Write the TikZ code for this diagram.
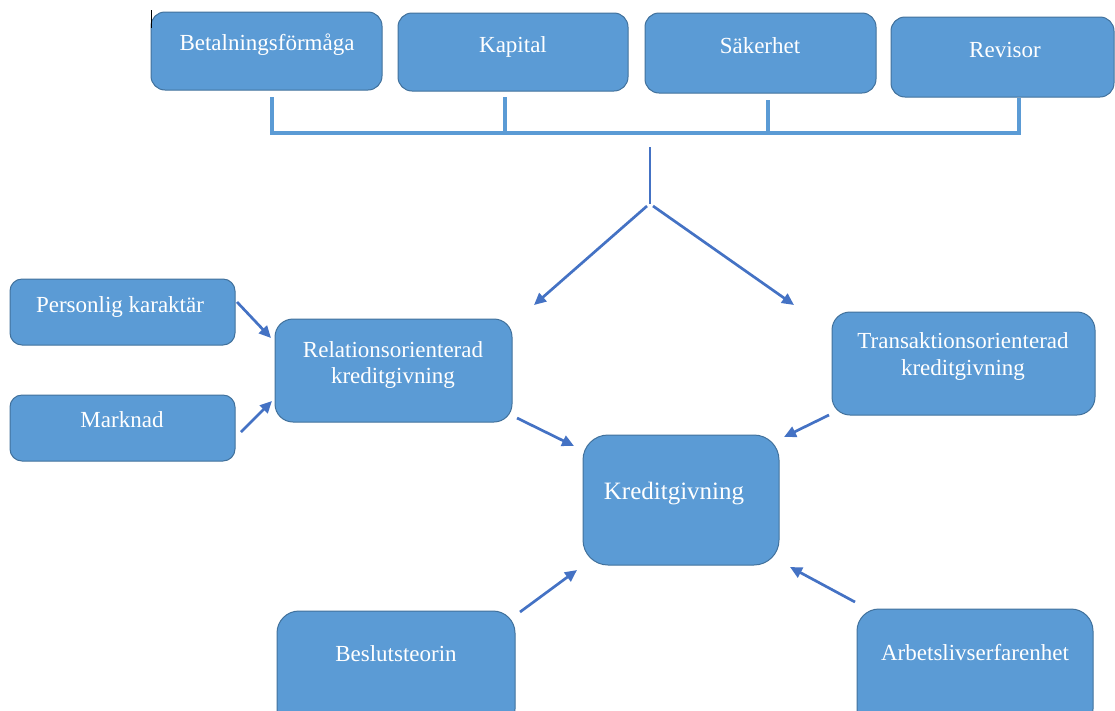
\documentclass[tikz,border=0pt]{standalone}
\usepackage{fontspec}
\setmainfont{Liberation Serif}
\usetikzlibrary{arrows.meta}
\definecolor{boxfill}{HTML}{5B9BD5}
\definecolor{boxline}{HTML}{41719C}
\definecolor{arrowblue}{HTML}{4472C4}
\begin{document}
\begin{tikzpicture}[x=1pt,y=-1pt,
  box/.style={draw=boxline, line width=1pt, fill=boxfill, inner sep=0pt},
  txt/.style={text=white, font=\fontsize{23}{27}\selectfont, inner sep=0pt, anchor=base},
  arr/.style={draw=arrowblue, line width=2.7pt, -{Triangle[length=12pt,width=11pt]}},
  brk/.style={draw=boxfill, line width=3.2pt, line join=miter}]
\useasboundingbox (0,0) rectangle (1115,710);

% top row
\node[box, rounded corners=14, minimum width=231, minimum height=78] (bet) at (266.5,51) {};
\node[txt] (betT) at (267,50) {Betalningsförmåga};
\node[box, rounded corners=14, minimum width=230, minimum height=78] (kap) at (513,52) {};
\node[txt] (kapT) at (513,52) {Kapital};
\node[box, rounded corners=14, minimum width=231, minimum height=80] (sak) at (760.5,53) {};
\node[txt] (sakT) at (760,53) {Säkerhet};
\node[box, rounded corners=14, minimum width=223, minimum height=80] (rev) at (1002.5,57) {};
\node[txt] (revT) at (1005,57) {Revisor};

% left inputs
\node[box, rounded corners=12, minimum width=225, minimum height=66] (pers) at (122.5,312) {};
\node[txt] (persT) at (120,312) {Personlig karaktär};
\node[box, rounded corners=12, minimum width=225, minimum height=66] (mark) at (122.5,428) {};
\node[txt] (markT) at (122,427) {Marknad};

% middle
\node[box, rounded corners=18, minimum width=237, minimum height=103] (rel) at (393.5,370.5) {};
\node[txt] (relT1) at (393,357) {Relationsorienterad};
\node[txt] (relT2) at (393,383) {kreditgivning};
\node[box, rounded corners=18, minimum width=263, minimum height=103] (tra) at (963.5,363.5) {};
\node[txt] (traT1) at (963,348) {Transaktionsorienterad};
\node[txt] (traT2) at (963,375) {kreditgivning};
\node[box, rounded corners=25, minimum width=196, minimum height=130] (kred) at (681,500) {};
\node[txt, font=\fontsize{25}{29}\selectfont] (kredT) at (674,499) {Kreditgivning};

% bottom
\node[box, rounded corners=22, minimum width=238, minimum height=120] (bes) at (396,671) {};
\node[txt] (besT) at (396,661) {Beslutsteorin};
\node[box, rounded corners=22, minimum width=236, minimum height=122] (arb) at (975,670) {};
\node[txt] (arbT) at (975,660) {Arbetslivserfarenhet};

% bracket
\coordinate (b1) at (272,97);
\coordinate (b2) at (505,97);
\coordinate (b3) at (768,100);
\coordinate (b4) at (1019,98);
\draw[brk] (b1) -- (b1 |- 0,133) -- (b4 |- 0,133) -- (b4);
\draw[brk] (b2) -- (b2 |- 0,133);
\draw[brk] (b3) -- (b3 |- 0,133);

% split
\coordinate (s0) at (650,147);
\coordinate (s1) at (650,204);
\draw[draw=arrowblue, line width=2.7pt] (s0) -- (s1);
\coordinate (sl) at (647,206);
\coordinate (sr) at (653,206);
\coordinate (tl) at (534,305);
\coordinate (tr) at (794,305);
\draw[arr] (sl) -- (tl);
\draw[arr] (sr) -- (tr);

% arrows
\coordinate (p1) at (237,302); \coordinate (p2) at (271,338);
\draw[arr] (p1) -- (p2);
\coordinate (m1) at (241,432); \coordinate (m2) at (272,401);
\draw[arr] (m1) -- (m2);
\coordinate (r1) at (517,418); \coordinate (r2) at (574,446);
\draw[arr] (r1) -- (r2);
\coordinate (t1) at (829,415); \coordinate (t2) at (784,437);
\draw[arr] (t1) -- (t2);
\coordinate (e1) at (520,612); \coordinate (e2) at (577,570);
\draw[arr] (e1) -- (e2);
\coordinate (a1) at (855,602); \coordinate (a2) at (790,567);
\draw[arr] (a1) -- (a2);

% small black mark
\coordinate (k1) at (151,10); \coordinate (k2) at (151,28);
\draw[black, line width=1pt] (k1) -- (k2);
\end{tikzpicture}
\end{document}
